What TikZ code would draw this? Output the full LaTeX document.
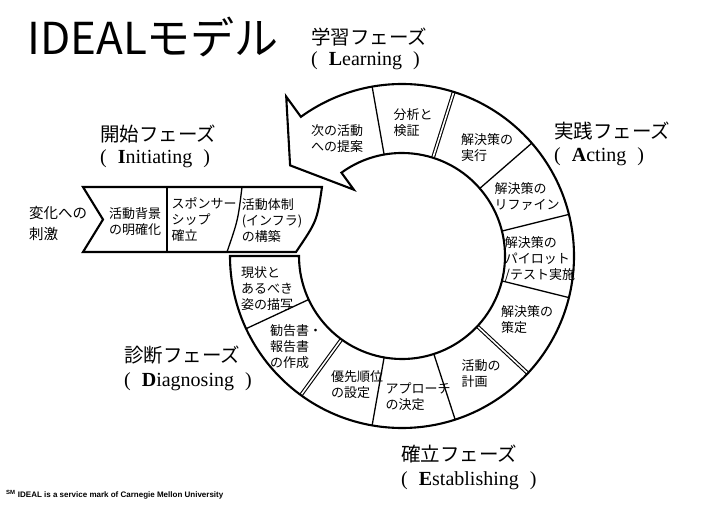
\documentclass[tikz,border=0pt]{standalone}
\usepackage{fontspec}
\setmainfont{Liberation Serif}
\newfontfamily\jpfont{Noto Sans CJK JP}
\newfontfamily\notefont{Liberation Sans}
\tikzset{
  outline/.style={line width=2.1pt, line join=miter},
  divider/.style={line width=1.3pt},
  phasegap/.style={double, double distance=1.6pt, line width=1.1pt},
  segtext/.style={align=left, inner sep=0pt, font=\jpfont\fontsize{13}{16}\selectfont},
  phasejp/.style={anchor=west, inner sep=0pt, font=\jpfont\fontsize{19.5}{22}\selectfont},
  phaseen/.style={anchor=west, inner sep=0pt, font=\rmfamily\fontsize{20}{24}\selectfont},
}
\newcommand{\phaseword}[2]{(\hspace{11pt}\textbf{#1}#2\hspace{11pt})}
\begin{document}
\begin{tikzpicture}[x=1pt, y=-1pt]
  \useasboundingbox (0,0) rectangle (704,529);
  % Title
  \node[anchor=base west, inner sep=0pt, font=\jpfont\fontsize{44}{44}\selectfont] (title) at (27,55) {IDEALモデル};
  % Initiating chevron
  \draw[divider] (167,187) -- (167,252);
  \draw[divider] (242,187) .. controls (238,220) .. (227,252);
  \draw[outline] (83,187) -- (322,187) .. controls (317,221) .. (296,252)
    -- (83,252) -- (103,219.5) -- cycle;
  % Ring with the Learning arrow head
  \begin{scope}[shift={(402,256)}, yscale=-1]
    % segment dividers
    \foreach \a in {205,260,288,346,374,401,460}
      \draw[divider] (\a:103) -- (\a:172);
    % phase boundaries
    \foreach \a in {234,317,432.5}
      \draw[phasegap] (\a:103) -- (\a:172);
    \draw[outline] (180:103) -- (180:172) arc[start angle=180, end angle=486, radius=172]
      -- (486:197) -- (501:144) -- (486:82) -- (486:103)
      arc[start angle=486, end angle=180, radius=103] -- cycle;
  \end{scope}
  % Stimulus
  \node[anchor=west, align=left, inner sep=0pt, font=\jpfont\fontsize{14.5}{21}\selectfont] (stim) at (29,224) {変化への\\刺激};
  % Segment texts
  \node[segtext] (bkg) at (135,222) {活動背景\\の明確化};
  \node[segtext] (spon) at (204,220) {スポンサー\\シップ\\確立};
  \node[segtext] (infra) at (272,221) {活動体制\\(インフラ)\\の構築};
  \node[segtext] (next) at (337,139) {次の活動\\への提案};
  \node[segtext] (anal) at (413,123) {分析と\\検証};
  \node[segtext] (exec) at (487,148) {解決策の\\実行};
  \node[segtext] (refine) at (527,197) {解決策の\\リファイン};
  \node[segtext] (pilot) at (540,259) {解決策の\\パイロット\\/テスト実施};
  \node[segtext] (sol) at (527,320) {解決策の\\策定};
  \node[segtext] (plan) at (481,374) {活動の\\計画};
  \node[segtext] (appr) at (418,397) {アプローチ\\の決定};
  \node[segtext] (prio) at (357,385) {優先順位\\の設定};
  \node[segtext] (rec) at (296,347) {勧告書・\\報告書\\の作成};
  \node[segtext] (state) at (267,289) {現状と\\あるべき\\姿の描写};
  % Phase labels
  \node[phasejp] (learnjp) at (311,37) {学習フェーズ};
  \node[phaseen] (learnen) at (311,61) {\phaseword{L}{earning}};
  \node[phasejp] (initjp) at (100,134) {開始フェーズ};
  \node[phaseen] (initen) at (100,159) {\phaseword{I}{nitiating}};
  \node[phasejp] (actjp) at (554,131) {実践フェーズ};
  \node[phaseen] (acten) at (554,157) {\phaseword{A}{cting}};
  \node[phasejp] (diagjp) at (124,355) {診断フェーズ};
  \node[phaseen] (diagen) at (124,382) {\phaseword{D}{iagnosing}};
  \node[phasejp] (estjp) at (401,454) {確立フェーズ};
  \node[phaseen] (esten) at (401,481) {\phaseword{E}{stablishing}};
  % Footnote
  \node[anchor=west, inner sep=0pt, font=\notefont\bfseries\fontsize{8}{9}\selectfont] (mark) at (6,495)
    {\textsuperscript{SM} IDEAL is a service mark of Carnegie Mellon University};
\end{tikzpicture}
\end{document}
